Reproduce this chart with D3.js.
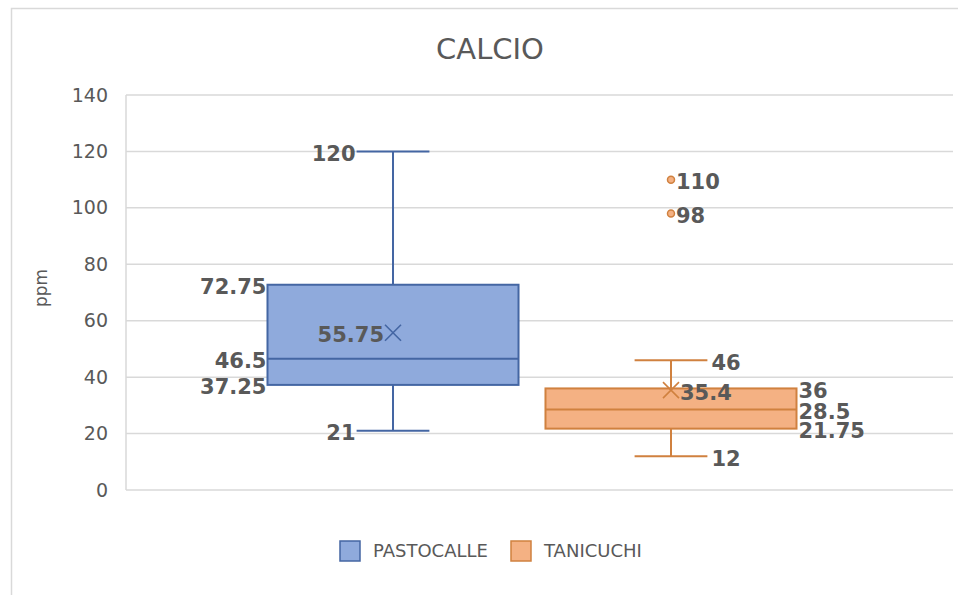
<!DOCTYPE html>
<html>
<head>
<meta charset="utf-8">
<script src="https://cdn.jsdelivr.net/npm/d3@7"></script>
<style>
  body { margin: 0; background: #fff; }
  text { font-family: "DejaVu Sans", sans-serif; }
</style>
</head>
<body>
<div id="chart"></div>
<script>
// data
var series = ["PASTOCALLE", "TANICUCHI"];
var mins = [21, 12];
var q1s = [37.25, 21.75];
var medians = [46.5, 28.5];
var q3s = [72.75, 36];
var maxs = [120, 46];
var means = [55.75, 35.4];
var outliers = [[], [110, 98]];
var yTicks = [0, 20, 40, 60, 80, 100, 120, 140];

var fills = ["#8faadc", "#f4b183"];
var strokes = ["#4466a3", "#d0813f"];
var labelColor = "#595959";

var W = 958, H = 595;
var plot = {left: 126, right: 953, top: 95, bottom: 490};

var svg = d3.select("#chart")
  .append("svg")
    .attr("width", W)
    .attr("height", H);

// chart border
svg.append("rect")
  .attr("x", 11.5).attr("y", 8.5)
  .attr("width", W + 10).attr("height", H + 10)
  .attr("fill", "none")
  .attr("stroke", "#d9d9d9")
  .attr("stroke-width", 1.5);

var y = d3.scaleLinear()
  .domain([0, 140])
  .range([plot.bottom, plot.top]);

var x = d3.scaleBand()
  .domain(series)
  .range([plot.left, 938])
  .paddingInner(0.097)
  .paddingOuter(0.509);

// gridlines
svg.append("g")
  .selectAll("line")
  .data(yTicks)
  .enter()
  .append("line")
    .attr("x1", plot.left)
    .attr("x2", plot.right)
    .attr("y1", function(d) { return y(d); })
    .attr("y2", function(d) { return y(d); })
    .attr("stroke", "#d9d9d9")
    .attr("stroke-width", 1.5);

svg.append("line")
  .attr("x1", plot.left).attr("x2", plot.left)
  .attr("y1", plot.top).attr("y2", plot.bottom)
  .attr("stroke", "#d9d9d9")
  .attr("stroke-width", 1.5);

// y axis labels
var yAxis = svg.append("g")
  .attr("transform", "translate(" + (plot.left - 10) + ",0)")
  .call(d3.axisLeft(y).tickValues(yTicks).tickSize(0).tickPadding(8));
yAxis.select(".domain").remove();
yAxis.selectAll("text")
  .attr("fill", labelColor)
  .style("font-size", "19px")
  .style("font-family", "'DejaVu Sans', sans-serif");

svg.append("text")
  .attr("transform", "translate(47,288) rotate(-90)")
  .attr("text-anchor", "middle")
  .attr("fill", labelColor)
  .style("font-size", "17px")
  .text("ppm");

// title
svg.append("text")
  .attr("x", 490)
  .attr("y", 59)
  .attr("text-anchor", "middle")
  .attr("fill", labelColor)
  .style("font-size", "29px")
  .text("CALCIO");

// boxes
var capW = x.bandwidth() * 0.29;
var idx = d3.range(series.length);

var g = svg.selectAll(".box")
  .data(idx)
  .enter()
  .append("g")
    .attr("class", "box");

function cx(i) { return x(series[i]) + x.bandwidth() / 2; }

// whiskers
g.append("line")
  .attr("x1", cx).attr("x2", cx)
  .attr("y1", function(i) { return y(maxs[i]); })
  .attr("y2", function(i) { return y(mins[i]); })
  .attr("stroke", function(i) { return strokes[i]; })
  .attr("stroke-width", 2);

g.selectAll(".cap")
  .data(function(i) { return [[i, maxs[i]], [i, mins[i]]]; })
  .enter()
  .append("line")
    .attr("x1", function(d) { return cx(d[0]) - capW / 2; })
    .attr("x2", function(d) { return cx(d[0]) + capW / 2; })
    .attr("y1", function(d) { return y(d[1]); })
    .attr("y2", function(d) { return y(d[1]); })
    .attr("stroke", function(d) { return strokes[d[0]]; })
    .attr("stroke-width", 2);

g.append("rect")
  .attr("x", function(i) { return x(series[i]); })
  .attr("y", function(i) { return y(q3s[i]); })
  .attr("width", x.bandwidth())
  .attr("height", function(i) { return y(q1s[i]) - y(q3s[i]); })
  .attr("fill", function(i) { return fills[i]; })
  .attr("stroke", function(i) { return strokes[i]; })
  .attr("stroke-width", 2);

g.append("line")
  .attr("x1", function(i) { return x(series[i]); })
  .attr("x2", function(i) { return x(series[i]) + x.bandwidth(); })
  .attr("y1", function(i) { return y(medians[i]); })
  .attr("y2", function(i) { return y(medians[i]); })
  .attr("stroke", function(i) { return strokes[i]; })
  .attr("stroke-width", 2);

// mean markers (x)
var m = 8;
g.append("path")
  .attr("d", function(i) {
    var px = cx(i), py = y(means[i]);
    return "M" + (px - m) + "," + (py - m) + "L" + (px + m) + "," + (py + m) +
           "M" + (px - m) + "," + (py + m) + "L" + (px + m) + "," + (py - m);
  })
  .attr("fill", "none")
  .attr("stroke", function(i) { return strokes[i]; })
  .attr("stroke-width", 1.6);

// outliers
g.selectAll(".out")
  .data(function(i) { return outliers[i].map(function(v) { return [i, v]; }); })
  .enter()
  .append("circle")
    .attr("cx", function(d) { return cx(d[0]); })
    .attr("cy", function(d) { return y(d[1]); })
    .attr("r", 3.5)
    .attr("fill", function(d) { return fills[d[0]]; })
    .attr("stroke", function(d) { return strokes[d[0]]; })
    .attr("stroke-width", 1.5);

// data labels: series 0 on the left, series 1 on the right
function labels(i) {
  var left = i === 0;
  var bx = left ? x(series[i]) - 1 : x(series[i]) + x.bandwidth() + 2;
  var wx = left ? cx(i) - capW / 2 - 1 : cx(i) + capW / 2 + 4;
  var mx = left ? cx(i) - 9 : cx(i) + 9;
  var out = [
    [wx, maxs[i]], [bx, q3s[i]], [bx, medians[i]], [bx, q1s[i]],
    [wx, mins[i]], [mx, means[i]]
  ];
  outliers[i].forEach(function(v) { out.push([cx(i) + 5, v]); });
  return out.map(function(d) { return {i: i, x: d[0], v: d[1], anchor: left ? "end" : "start"}; });
}

g.selectAll(".lbl")
  .data(labels)
  .enter()
  .append("text")
    .attr("x", function(d) { return d.x; })
    .attr("y", function(d) { return y(d.v) + 2; })
    .attr("dy", "0.36em")
    .attr("text-anchor", function(d) { return d.anchor; })
    .attr("fill", labelColor)
    .style("font-size", "21px")
    .style("font-weight", "700")
    .text(function(d) { return d.v; });

// legend
var legX = [340, 511];
var leg = svg.selectAll(".leg")
  .data(idx)
  .enter()
  .append("g")
    .attr("transform", function(i) { return "translate(" + legX[i] + ",541)"; });

leg.append("rect")
  .attr("width", 20).attr("height", 20)
  .attr("fill", function(i) { return fills[i]; })
  .attr("stroke", function(i) { return strokes[i]; })
  .attr("stroke-width", 1.5);

leg.append("text")
  .attr("x", 33)
  .attr("y", 10)
  .attr("dy", "0.36em")
  .attr("fill", labelColor)
  .style("font-size", "18px")
  .text(function(i) { return series[i]; });
</script>
</body>
</html>
